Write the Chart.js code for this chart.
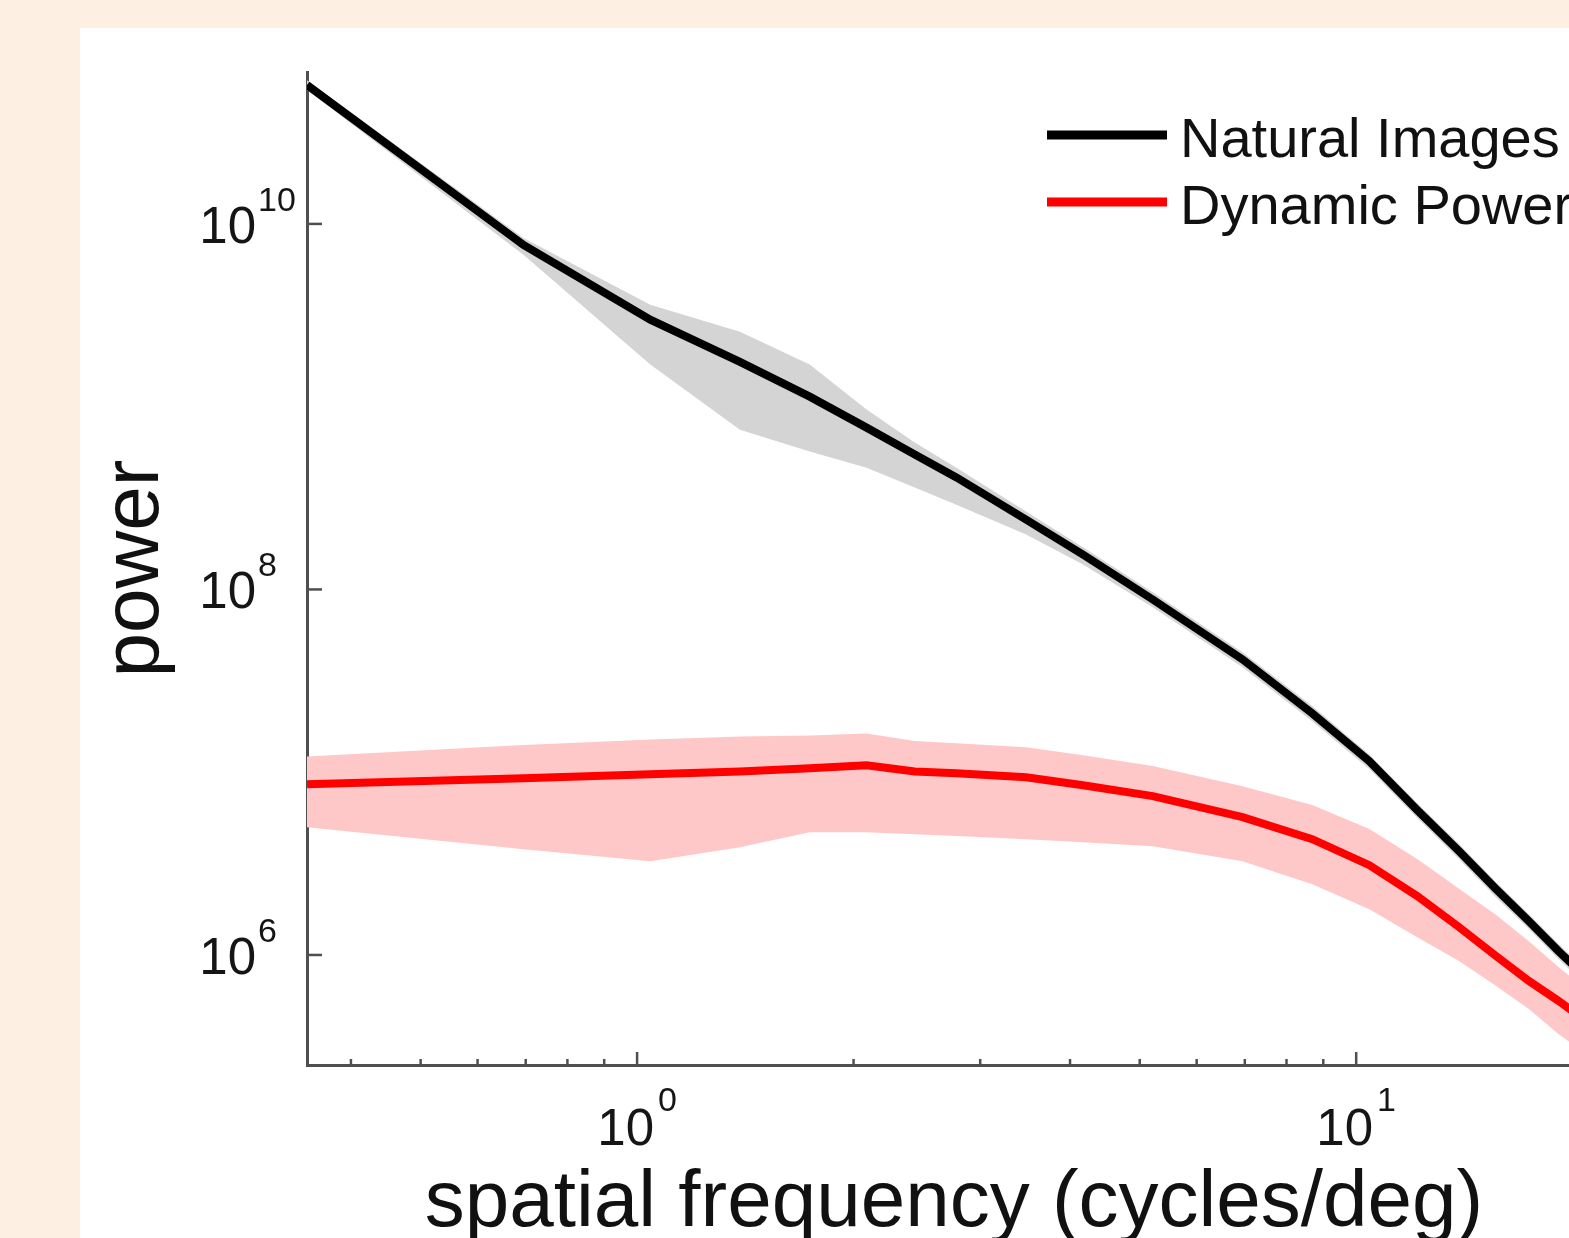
<!DOCTYPE html>
<html><head><meta charset="utf-8">
<script src="https://cdn.jsdelivr.net/npm/chart.js@4/dist/chart.umd.min.js"></script>
<style>
html,body{margin:0;padding:0;width:1569px;height:1238px;overflow:hidden;background:#FDF0E3;}
#wrap{position:absolute;left:80px;top:28px;width:1700px;height:1210px;background:#ffffff;}
canvas{display:block}
</style></head><body>
<div id="wrap"><canvas id="c" width="1700" height="1210"></canvas></div>
<script>
// spatial frequency (cycles/deg)
const freq = [0.3475, 0.695, 1.043, 1.390, 1.738, 2.085, 2.433, 2.780, 3.475, 4.170, 5.213, 6.950, 8.688, 10.43, 12.16, 13.90, 15.64, 17.38, 19.11, 20.85, 21.89];

const naturalMean  = [5.75e10, 7.67e9, 2.99e9, 1.76e9, 1.135e9, 7.68e8, 5.47e8, 4.10e8, 2.41e8, 1.55e8, 8.81e7, 4.14e7, 2.10e7, 1.15e7, 6.20e6, 3.70e6, 2.30e6, 1.53e6, 1.05e6, 7.59e5, 6.28e5];
const naturalUpper = [6.12e10, 8.38e9, 3.61e9, 2.57e9, 1.70e9, 9.64e8, 6.36e8, 4.64e8, 2.67e8, 1.70e8, 9.64e7, 4.53e7, 2.30e7, 1.25e7, 6.77e6, 4.05e6, 2.51e6, 1.67e6, 1.15e6, 8.28e5, 6.85e5];
const naturalLower = [5.40e10, 6.78e9, 1.70e9, 7.48e8, 5.68e8, 4.64e8, 3.61e8, 2.91e8, 2.00e8, 1.37e8, 7.98e7, 3.75e7, 1.90e7, 1.04e7, 5.61e6, 3.35e6, 2.07e6, 1.39e6, 9.51e5, 6.85e5, 5.68e5];

const dynamicMean  = [8.59e6, 9.27e6, 9.75e6, 1.01e7, 1.05e7, 1.09e7, 1.01e7, 9.88e6, 9.39e6, 8.49e6, 7.40e6, 5.68e6, 4.30e6, 3.10e6, 2.10e6, 1.42e6, 9.88e5, 7.21e5, 5.61e5, 4.36e5, 3.75e5];
const dynamicUpper = [1.22e7, 1.41e7, 1.51e7, 1.57e7, 1.59e7, 1.63e7, 1.48e7, 1.44e7, 1.37e7, 1.24e7, 1.08e7, 8.38e6, 6.61e6, 4.89e6, 3.35e6, 2.30e6, 1.66e6, 1.19e6, 8.60e5, 6.52e5, 5.61e5];
const dynamicLower = [5.00e6, 3.79e6, 3.26e6, 3.89e6, 4.70e6, 4.70e6, 4.58e6, 4.47e6, 4.30e6, 4.14e6, 3.94e6, 3.26e6, 2.44e6, 1.78e6, 1.25e6, 9.27e5, 6.78e5, 5.07e5, 3.70e5, 2.88e5, 2.54e5];

const seriesLabels = ['Natural Images', 'Dynamic Power'];
const xRange = [0.3475, 21.9];
const yRange = [2.5e5, 6.78e10];
const xMajorTicks = [1, 10];
const xMajorExps = ['0', '1'];
const xMinorTicks = [0.4, 0.5, 0.6, 0.7, 0.8, 0.9, 2, 3, 4, 5, 6, 7, 8, 9, 20];
const yMajorTicks = [1e6, 1e8, 1e10];
const yMajorExps = ['6', '8', '10'];
const xTitle = 'spatial frequency (cycles/deg)';
const yTitle = 'power';

const FONT = '"Liberation Sans", Arial, Helvetica, sans-serif';
const AXIS = '#4f4f4f';
const BASE_FONT = '51px ' + FONT;
const EXP_FONT = '34px ' + FONT;
const pts = arr => freq.map((f, i) => ({x: f, y: arr[i]}));

const decor = {
  id: 'decor',
  afterDraw(chart) {
    const {ctx, chartArea: a, scales: {x, y}} = chart;
    ctx.save();
    ctx.strokeStyle = AXIS;
    ctx.lineWidth = 2.5;
    const seg = (x1, y1, x2, y2) => { ctx.beginPath(); ctx.moveTo(x1, y1); ctx.lineTo(x2, y2); ctx.stroke(); };
    xMinorTicks.forEach(v => { const p = x.getPixelForValue(v); if (p > a.left && p <= a.right) seg(p, a.bottom, p, a.bottom - 6); });
    xMajorTicks.forEach(v => { const p = x.getPixelForValue(v); seg(p, a.bottom, p, a.bottom - 13); });
    yMajorTicks.forEach(v => { const p = y.getPixelForValue(v); seg(a.left, p, a.left + 15, p); });

    ctx.fillStyle = '#151515';
    yMajorTicks.forEach((v, i) => {
      const p = y.getPixelForValue(v);
      ctx.font = BASE_FONT;
      ctx.textAlign = 'right'; ctx.textBaseline = 'alphabetic';
      const bx = a.left - 51;
      ctx.fillText('10', bx, p + 19);
      ctx.font = EXP_FONT;
      ctx.textAlign = 'left';
      ctx.fillText(yMajorExps[i], bx + 2, p - 13);
    });
    xMajorTicks.forEach((v, i) => {
      const p = x.getPixelForValue(v);
      ctx.font = BASE_FONT;
      const wb = ctx.measureText('10').width;
      ctx.font = EXP_FONT;
      const we = ctx.measureText(xMajorExps[i]).width;
      const start = p - (wb + 4 + we) / 2;
      ctx.textAlign = 'left'; ctx.textBaseline = 'alphabetic';
      ctx.font = BASE_FONT;
      ctx.fillText('10', start, a.bottom + 80);
      ctx.font = EXP_FONT;
      ctx.fillText(xMajorExps[i], start + wb + 4, a.bottom + 46);
    });
    ctx.fillStyle = '#111';
    ctx.font = '80px ' + FONT;
    ctx.textAlign = 'center'; ctx.textBaseline = 'alphabetic';
    ctx.fillText(xTitle, (a.left + a.right) / 2, a.bottom + 161);
    ctx.save();
    ctx.translate(78, (a.top + a.bottom) / 2);
    ctx.rotate(-Math.PI / 2);
    ctx.fillText(yTitle, 0, 0);
    ctx.restore();
    const ds = chart.data.datasets;
    ctx.font = '56px ' + FONT;
    ctx.textAlign = 'left';
    [0, 1].forEach((di, r) => {
      const ly = 107 + r * 67;
      ctx.strokeStyle = ds[di].borderColor;
      ctx.lineWidth = 9;
      seg(967, ly, 1087, ly);
      ctx.fillStyle = '#111';
      ctx.fillText(ds[di].label, 1100, ly + 22);
    });
    ctx.restore();
  }
};

const clear = 'rgba(0,0,0,0)';
new Chart(document.getElementById('c'), {
  type: 'line',
  data: {
    datasets: [
      {label: seriesLabels[0], data: pts(naturalMean), borderColor: '#000000', borderWidth: 8, pointRadius: 0, fill: false, tension: 0},
      {label: seriesLabels[1], data: pts(dynamicMean), borderColor: '#ff0000', borderWidth: 8, pointRadius: 0, fill: false, tension: 0},
      {label: 'ni_upper', data: pts(naturalUpper), borderColor: clear, borderWidth: 0, backgroundColor: '#d4d4d4', fill: '+1', pointRadius: 0},
      {label: 'ni_lower', data: pts(naturalLower), borderColor: clear, borderWidth: 0, pointRadius: 0, fill: false},
      {label: 'dp_upper', data: pts(dynamicUpper), borderColor: clear, borderWidth: 0, backgroundColor: '#ffc8c8', fill: '+1', pointRadius: 0},
      {label: 'dp_lower', data: pts(dynamicLower), borderColor: clear, borderWidth: 0, pointRadius: 0, fill: false}
    ]
  },
  options: {
    responsive: false,
    animation: false,
    devicePixelRatio: 1,
    layout: {padding: {left: 0, top: 44, right: 179, bottom: 0}},
    plugins: {legend: {display: false}, tooltip: {enabled: false}},
    scales: {
      x: {
        type: 'logarithmic', min: xRange[0], max: xRange[1], bounds: 'data',
        grid: {display: false, drawTicks: false},
        border: {display: true, color: AXIS, width: 3},
        ticks: {display: false},
        afterFit(s) { s.height = 173; }
      },
      y: {
        type: 'logarithmic', min: yRange[0], max: yRange[1], bounds: 'data',
        grid: {display: false, drawTicks: false},
        border: {display: true, color: AXIS, width: 3},
        ticks: {display: false},
        afterFit(s) { s.width = 227; }
      }
    }
  },
  plugins: [decor]
});
</script>
</body></html>
